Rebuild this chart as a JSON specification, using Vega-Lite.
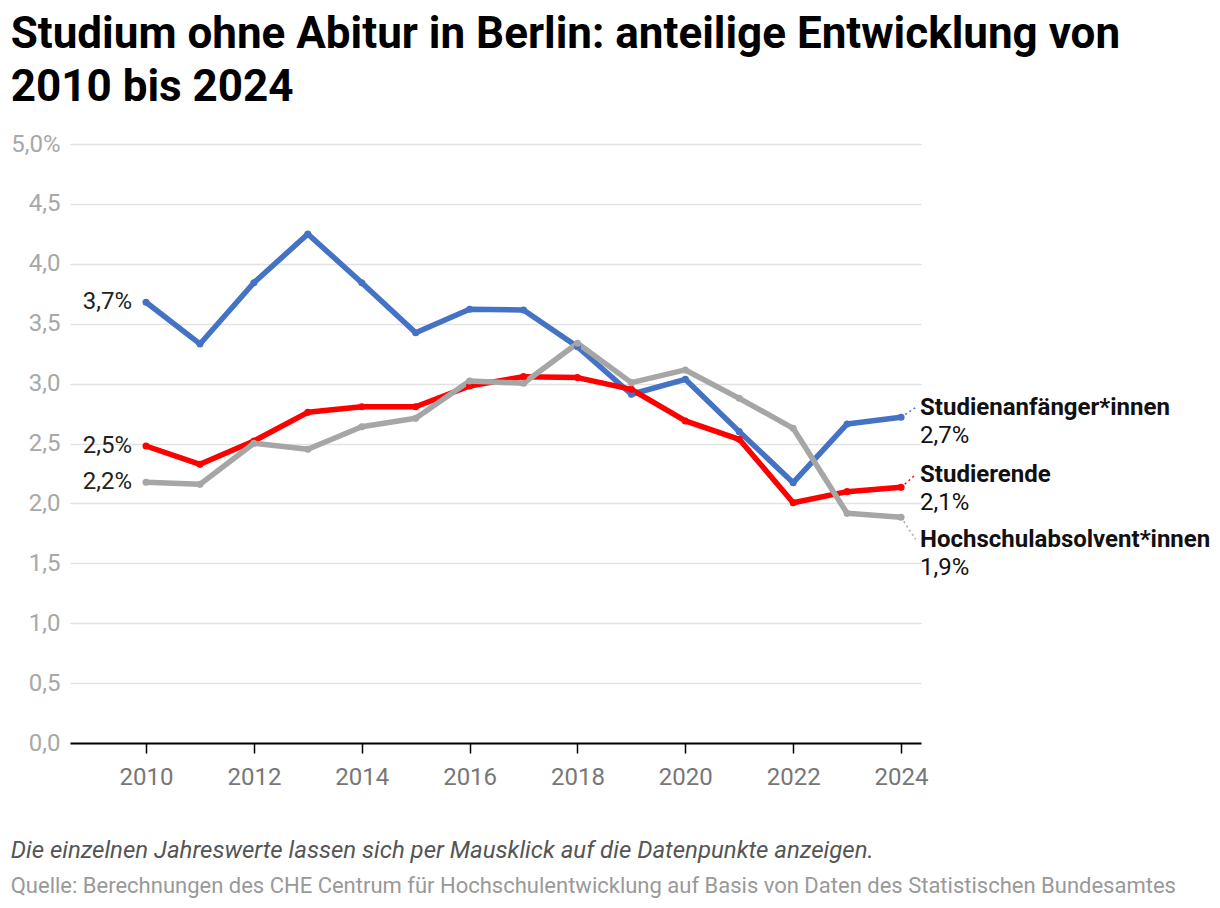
{
  "$schema": "https://vega.github.io/schema/vega-lite/v6.json",
  "padding": {"left": 10, "top": 13, "right": 5, "bottom": 10},
  "background": "white",
  "config": {
    "font": "Roboto",
    "view": {"stroke": null},
    "concat": {"spacing": 0}
  },
  "title": {
    "text": ["Studium ohne Abitur in Berlin: anteilige Entwicklung von", "2010 bis 2024"],
    "font": "Roboto",
    "fontSize": 44,
    "fontWeight": "bold",
    "color": "#000000",
    "anchor": "start",
    "frame": "bounds",
    "lineHeight": 53,
    "offset": 22
  },
  "datasets": {
    "series": [
      {"year": 2010, "series": "Studienanfänger*innen", "value": 3.679},
      {"year": 2011, "series": "Studienanfänger*innen", "value": 3.331},
      {"year": 2012, "series": "Studienanfänger*innen", "value": 3.842},
      {"year": 2013, "series": "Studienanfänger*innen", "value": 4.249},
      {"year": 2014, "series": "Studienanfänger*innen", "value": 3.842},
      {"year": 2015, "series": "Studienanfänger*innen", "value": 3.425},
      {"year": 2016, "series": "Studienanfänger*innen", "value": 3.62},
      {"year": 2017, "series": "Studienanfänger*innen", "value": 3.614},
      {"year": 2018, "series": "Studienanfänger*innen", "value": 3.308},
      {"year": 2019, "series": "Studienanfänger*innen", "value": 2.911},
      {"year": 2020, "series": "Studienanfänger*innen", "value": 3.036},
      {"year": 2021, "series": "Studienanfänger*innen", "value": 2.599},
      {"year": 2022, "series": "Studienanfänger*innen", "value": 2.173},
      {"year": 2023, "series": "Studienanfänger*innen", "value": 2.663},
      {"year": 2024, "series": "Studienanfänger*innen", "value": 2.719},
      {"year": 2010, "series": "Studierende", "value": 2.479},
      {"year": 2011, "series": "Studierende", "value": 2.326},
      {"year": 2012, "series": "Studierende", "value": 2.521},
      {"year": 2013, "series": "Studierende", "value": 2.76},
      {"year": 2014, "series": "Studierende", "value": 2.807},
      {"year": 2015, "series": "Studierende", "value": 2.807},
      {"year": 2016, "series": "Studierende", "value": 2.98},
      {"year": 2017, "series": "Studierende", "value": 3.058},
      {"year": 2018, "series": "Studierende", "value": 3.05},
      {"year": 2019, "series": "Studierende", "value": 2.952},
      {"year": 2020, "series": "Studierende", "value": 2.688},
      {"year": 2021, "series": "Studierende", "value": 2.535},
      {"year": 2022, "series": "Studierende", "value": 2.006},
      {"year": 2023, "series": "Studierende", "value": 2.098},
      {"year": 2024, "series": "Studierende", "value": 2.134},
      {"year": 2010, "series": "Hochschulabsolvent*innen", "value": 2.176},
      {"year": 2011, "series": "Hochschulabsolvent*innen", "value": 2.159},
      {"year": 2012, "series": "Hochschulabsolvent*innen", "value": 2.502},
      {"year": 2013, "series": "Hochschulabsolvent*innen", "value": 2.452},
      {"year": 2014, "series": "Hochschulabsolvent*innen", "value": 2.64},
      {"year": 2015, "series": "Hochschulabsolvent*innen", "value": 2.71},
      {"year": 2016, "series": "Hochschulabsolvent*innen", "value": 3.022},
      {"year": 2017, "series": "Hochschulabsolvent*innen", "value": 3.003},
      {"year": 2018, "series": "Hochschulabsolvent*innen", "value": 3.337},
      {"year": 2019, "series": "Hochschulabsolvent*innen", "value": 3.008},
      {"year": 2020, "series": "Hochschulabsolvent*innen", "value": 3.114},
      {"year": 2021, "series": "Hochschulabsolvent*innen", "value": 2.877},
      {"year": 2022, "series": "Hochschulabsolvent*innen", "value": 2.627},
      {"year": 2023, "series": "Hochschulabsolvent*innen", "value": 1.917},
      {"year": 2024, "series": "Hochschulabsolvent*innen", "value": 1.884}
    ]
  },
  "vconcat": [
    {
      "width": 851,
      "height": 599,
      "data": {"name": "series"},
      "title": {
        "text": "Die einzelnen Jahreswerte lassen sich per Mausklick auf die Datenpunkte anzeigen.",
        "orient": "bottom",
        "anchor": "start",
        "frame": "bounds",
        "font": "Roboto",
        "fontSize": 24,
        "fontStyle": "italic",
        "fontWeight": "normal",
        "color": "#555555",
        "offset": 50,
        "subtitle": "Quelle: Berechnungen des CHE Centrum für Hochschulentwicklung auf Basis von Daten des Statistischen Bundesamtes",
        "subtitleFont": "Roboto",
        "subtitleFontSize": 22,
        "subtitleColor": "#999999",
        "subtitlePadding": 13
      },
      "encoding": {
        "x": {
          "field": "year",
          "type": "quantitative",
          "scale": {"domain": [2008.59, 2024.37], "nice": false, "zero": false},
          "axis": {
            "values": [2010, 2012, 2014, 2016, 2018, 2020, 2022, 2024],
            "format": "d",
            "title": null,
            "grid": false,
            "domainColor": "#000000",
            "domainWidth": 2,
            "tickColor": "#000000",
            "tickWidth": 1.5,
            "tickSize": 10,
            "labelFontSize": 24,
            "labelColor": "#777777",
            "labelPadding": 12,
            "labelFont": "Roboto"
          }
        },
        "y": {
          "field": "value",
          "type": "quantitative",
          "scale": {"domain": [0, 5], "nice": false},
          "axis": {
            "values": [0, 0.5, 1, 1.5, 2, 2.5, 3, 3.5, 4, 4.5, 5],
            "labelExpr": "datum.value == 5 ? '5,0%' : replace(format(datum.value, '.1f'), '.', ',')",
            "title": null,
            "domain": false,
            "ticks": false,
            "gridColor": "#e2e2e2",
            "gridWidth": 1.5,
            "labelFontSize": 24,
            "labelColor": "#a8a8a8",
            "labelPadding": 10,
            "labelFont": "Roboto"
          }
        },
        "color": {
          "field": "series",
          "type": "nominal",
          "scale": {
            "domain": ["Hochschulabsolvent*innen", "Studienanfänger*innen", "Studierende"],
            "range": ["#a6a6a6", "#4472c4", "#ff0000"]
          },
          "legend": null
        }
      },
      "layer": [
        {
          "mark": {"type": "line", "strokeCap": "round", "strokeJoin": "round"},
          "encoding": {
            "strokeWidth": {
              "field": "series",
              "type": "nominal",
              "scale": {
                "domain": ["Hochschulabsolvent*innen", "Studienanfänger*innen", "Studierende"],
                "range": [5.5, 5.5, 3.2]
              },
              "legend": null
            }
          }
        },
        {
          "mark": {"type": "circle", "opacity": 1, "size": 50}
        },
        {
          "transform": [
            {"filter": "datum.year == 2010"},
            {"calculate": "replace(format(datum.value, '.1f'), '.', ',') + '%'", "as": "label"}
          ],
          "mark": {"type": "text", "align": "right", "baseline": "middle", "dx": -14, "fontSize": 24, "font": "Roboto"},
          "encoding": {"text": {"field": "label"}, "color": {"value": "#222222"}}
        },
        {
          "transform": [
            {"filter": "datum.year == 2024"},
            {"calculate": "datum.series == 'Studienanfänger*innen' ? 2.8 : datum.series == 'Studierende' ? 2.24 : 1.7", "as": "ly"}
          ],
          "mark": {"type": "rule", "strokeDash": [2, 3], "strokeWidth": 1.5},
          "encoding": {
            "x2": {"datum": 2024.27},
            "y2": {"field": "ly"}
          }
        },
        {
          "transform": [{"filter": "datum.year == 2024 && datum.series == 'Studienanfänger*innen'"}],
          "mark": {"type": "text", "align": "left", "baseline": "middle", "dx": 19, "dy": -9, "fontSize": 24, "fontWeight": "bold", "font": "Roboto"},
          "encoding": {"text": {"field": "series"}, "color": {"value": "#111111"}}
        },
        {
          "transform": [
            {"filter": "datum.year == 2024 && datum.series == 'Studienanfänger*innen'"},
            {"calculate": "replace(format(datum.value, '.1f'), '.', ',') + '%'", "as": "label"}
          ],
          "mark": {"type": "text", "align": "left", "baseline": "middle", "dx": 19, "dy": 19, "fontSize": 24, "font": "Roboto"},
          "encoding": {"text": {"field": "label"}, "color": {"value": "#111111"}}
        },
        {
          "transform": [{"filter": "datum.year == 2024 && datum.series == 'Studierende'"}],
          "mark": {"type": "text", "align": "left", "baseline": "middle", "dx": 19, "dy": -12, "fontSize": 24, "fontWeight": "bold", "font": "Roboto"},
          "encoding": {"text": {"field": "series"}, "color": {"value": "#111111"}}
        },
        {
          "transform": [
            {"filter": "datum.year == 2024 && datum.series == 'Studierende'"},
            {"calculate": "replace(format(datum.value, '.1f'), '.', ',') + '%'", "as": "label"}
          ],
          "mark": {"type": "text", "align": "left", "baseline": "middle", "dx": 19, "dy": 16, "fontSize": 24, "font": "Roboto"},
          "encoding": {"text": {"field": "label"}, "color": {"value": "#111111"}}
        },
        {
          "transform": [{"filter": "datum.year == 2024 && datum.series == 'Hochschulabsolvent*innen'"}],
          "mark": {"type": "text", "align": "left", "baseline": "middle", "dx": 19, "dy": 23, "fontSize": 24, "fontWeight": "bold", "font": "Roboto"},
          "encoding": {"text": {"field": "series"}, "color": {"value": "#111111"}}
        },
        {
          "transform": [
            {"filter": "datum.year == 2024 && datum.series == 'Hochschulabsolvent*innen'"},
            {"calculate": "replace(format(datum.value, '.1f'), '.', ',') + '%'", "as": "label"}
          ],
          "mark": {"type": "text", "align": "left", "baseline": "middle", "dx": 19, "dy": 51, "fontSize": 24, "font": "Roboto"},
          "encoding": {"text": {"field": "label"}, "color": {"value": "#111111"}}
        }
      ]
    }
  ]
}
